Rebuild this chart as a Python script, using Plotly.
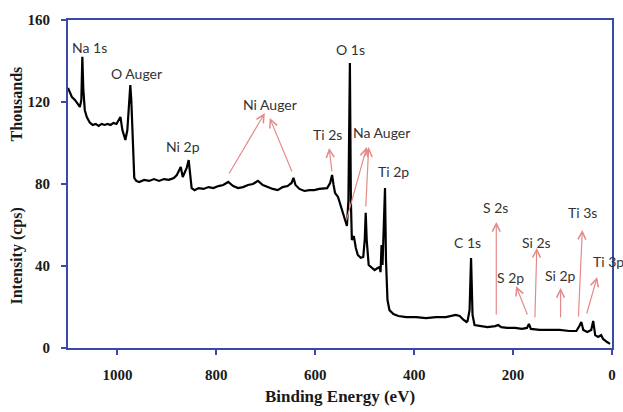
import plotly.graph_objects as go

# Survey spectrum: binding energy (eV) and intensity (thousands of cps)
energy_ev = [1100, 1096, 1092, 1086, 1080, 1076, 1073, 1071, 1069, 1066, 1062, 1056, 1050, 1044, 1038, 1032,
             1026, 1020, 1014, 1008, 1002, 996, 994, 990, 984, 980, 976, 974, 972, 969, 966, 962, 956, 946,
             936, 926, 916, 906, 896, 886, 880, 876, 872, 868, 864, 860, 856, 853, 850, 844, 836, 826, 816,
             806, 796, 786, 776, 766, 756, 746, 736, 726, 716, 706, 696, 686, 676, 666, 656, 648, 644, 640,
             632, 622, 612, 602, 592, 582, 576, 570, 566, 563, 560, 554, 548, 542, 536, 533, 530, 528, 526,
             522, 518, 514, 508, 503, 500, 498, 496, 492, 486, 480, 474, 470, 468, 466, 464, 462, 459, 457,
             454, 450, 442, 432, 416, 396, 376, 356, 336, 316, 308, 300, 294, 292, 288, 285, 282, 278, 266,
             252, 236, 230, 224, 212, 196, 182, 172, 168, 164, 146, 126, 106, 86, 72, 66, 62, 58, 50, 42, 38,
             34, 28, 22, 18, 10, 4]
intensity_k = [126.8, 124.9, 122.4, 121.0, 119.0, 117.6, 121.0, 142.0, 126.0, 116.0, 112.7, 110.0, 108.8, 109.3,
               108.3, 109.3, 108.8, 109.3, 108.8, 109.8, 109.3, 111.7, 112.7, 106.3, 101.5, 106.3, 123.4, 128.3,
               121.0, 96.6, 83.0, 81.5, 81.0, 82.0, 81.5, 82.4, 81.5, 82.4, 82.0, 82.9, 84.4, 86.3, 88.3, 83.4,
               85.9, 87.8, 91.7, 83.0, 78.0, 77.0, 78.0, 77.6, 78.5, 78.0, 79.0, 79.5, 81.0, 79.0, 78.0, 78.5,
               79.5, 80.0, 81.5, 79.5, 78.5, 77.6, 77.0, 78.5, 79.0, 80.5, 83.0, 79.5, 77.6, 76.6, 77.0, 77.0,
               77.6, 78.0, 78.0, 80.5, 84.4, 79.5, 75.6, 73.7, 68.8, 63.4, 59.5, 72.0, 139.0, 72.0, 52.7, 54.6,
               48.8, 45.4, 44.0, 44.4, 52.7, 65.9, 52.7, 40.5, 39.0, 38.0, 39.0, 39.5, 37.0, 50.2, 40.5, 53.7,
               78.0, 42.9, 23.4, 18.5, 16.6, 15.6, 15.1, 15.1, 14.6, 15.1, 15.1, 16.1, 15.6, 13.7, 12.7, 13.2,
               18.5, 43.9, 16.1, 11.2, 10.7, 10.2, 10.7, 11.2, 10.2, 9.8, 9.8, 9.3, 9.8, 11.7, 9.3, 8.8, 8.8,
               8.8, 8.3, 8.3, 10.7, 12.7, 8.8, 7.8, 8.8, 13.2, 6.3, 5.4, 6.3, 4.4, 2.9, 2.0]

x_ticks = [1000, 800, 600, 400, 200, 0]
y_ticks = [0, 40, 80, 120, 160]

# Peak labels: text, energy, intensity
label_text = ["Na 1s", "O Auger", "Ni 2p", "Ni Auger", "Ti 2s", "Na Auger", "O 1s", "Ti 2p",
              "C 1s", "S 2s", "S 2p", "Si 2s", "Si 2p", "Ti 3s"]
label_ev = [1056, 962, 868, 692, 576, 466, 528, 442, 292, 236, 206, 152, 104, 60]
label_k = [146.8, 133.7, 98.5, 119.0, 104.0, 104.9, 145.4, 85.9, 51.7, 68.3, 34.6, 51.7, 35.6, 65.9]

# Arrows: tail (ev, k) -> head (ev, k)
arrow_tail_ev = [776, 646, 566, 538, 498, 234, 170, 156, 104, 68, 52]
arrow_tail_k = [84.4, 85.4, 85.4, 61.5, 68.3, 15.6, 15.6, 14.1, 14.1, 14.6, 16.1]
arrow_head_ev = [702, 692, 572, 496, 492, 234, 194, 152, 104, 60, 30]
arrow_head_k = [114.6, 112.2, 97.6, 98.0, 98.0, 61.5, 30.2, 48.8, 29.3, 57.6, 34.6]

AXIS_BLUE = "#3b4aa6"
ARROW = "#e58a8a"
LABEL_FONT = dict(family="Lato, Open Sans, sans-serif", size=14, color="#333333")
TICK_FONT = dict(family="Liberation Serif, Times New Roman, serif", size=15, color="#1a1a1a", weight="bold")
TITLE_FONT = dict(family="Liberation Serif, Times New Roman, serif", size=16, color="#1a1a1a", weight="bold")
XTITLE_FONT = dict(family="Liberation Serif, Times New Roman, serif", size=17, color="#1a1a1a", weight="bold")

fig = go.Figure()
fig.add_trace(go.Scatter(x=energy_ev, y=intensity_k, mode="lines",
                         line=dict(color="black", width=2.2), hoverinfo="skip", showlegend=False))

annotations = []
for t, xv, yv in zip(label_text, label_ev, label_k):
    annotations.append(dict(x=xv, y=yv, xref="x", yref="y", text=t, showarrow=False,
                            font=LABEL_FONT, xanchor="center", yanchor="middle"))
annotations.append(dict(x=42, y=42, xref="x", yref="y", text="Ti 3p", showarrow=False,
                        font=LABEL_FONT, xanchor="left", yanchor="middle"))
for tx, ty, hx, hy in zip(arrow_tail_ev, arrow_tail_k, arrow_head_ev, arrow_head_k):
    annotations.append(dict(x=hx, y=hy, xref="x", yref="y", ax=tx, ay=ty, axref="x", ayref="y",
                            text="", showarrow=True, arrowhead=5, arrowsize=1.3, arrowwidth=1.2,
                            arrowcolor=ARROW))
annotations.append(dict(x=-0.093, y=0.744, xref="paper", yref="paper", text="Thousands", textangle=-90,
                        showarrow=False, font=TITLE_FONT, xanchor="center", yanchor="middle"))
annotations.append(dict(x=-0.093, y=0.28, xref="paper", yref="paper", text="Intensity (cps)", textangle=-90,
                        showarrow=False, font=TITLE_FONT, xanchor="center", yanchor="middle"))

fig.update_layout(
    width=623, height=412,
    margin=dict(l=68, r=7, t=20, b=64),
    paper_bgcolor="white", plot_bgcolor="white",
    annotations=annotations,
    xaxis=dict(range=[1100, 0], tickvals=x_ticks, ticktext=[str(v) for v in x_ticks],
               showgrid=False, zeroline=False, showline=True, linecolor=AXIS_BLUE, linewidth=2,
               mirror=True, ticks="outside", ticklen=5, tickwidth=2, tickcolor=AXIS_BLUE,
               tickfont=TICK_FONT, ticklabelstandoff=7,
               title=dict(text="Binding Energy (eV)", font=XTITLE_FONT, standoff=8)),
    yaxis=dict(range=[0, 160], tickvals=y_ticks, ticktext=[str(v) for v in y_ticks],
               showgrid=False, zeroline=False, showline=True, linecolor=AXIS_BLUE, linewidth=2,
               mirror=True, ticks="outside", ticklen=5, tickwidth=2, tickcolor=AXIS_BLUE,
               tickfont=TICK_FONT, ticklabelstandoff=8),
)

fig.write_html("out.html")
